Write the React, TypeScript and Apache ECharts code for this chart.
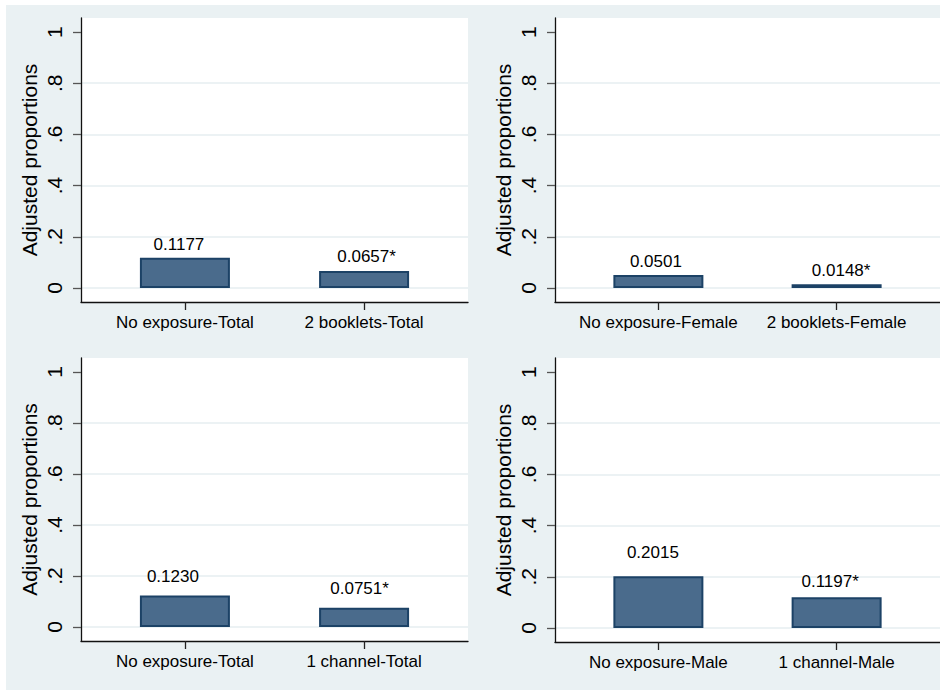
import React, { useEffect, useRef } from "react";
import * as echarts from "echarts";

// ---- data ----
const yTickValues = [0, 0.2, 0.4, 0.6, 0.8, 1];
const yTickLabels = ["0", ".2", ".4", ".6", ".8", "1"];
const yTitle = "Adjusted proportions";

const catsTL = ["No exposure-Total", "2 booklets-Total"];
const valsTL = [0.1177, 0.0657];
const starsTL = ["", "*"];

const catsTR = ["No exposure-Female", "2 booklets-Female"];
const valsTR = [0.0501, 0.0148];
const starsTR = ["", "*"];

const catsBL = ["No exposure-Total", "1 channel-Total"];
const valsBL = [0.123, 0.0751];
const starsBL = ["", "*"];

const catsBR = ["No exposure-Male", "1 channel-Male"];
const valsBR = [0.2015, 0.1197];
const starsBR = ["", "*"];

// ---- layout ----
const FONT = "'Liberation Sans', Arial, sans-serif";
const PANELS = [
  { cats: catsTL, vals: valsTL, stars: starsTL, left: 81, top: 18, height: 284, dx: [-6, 2.5], dist: [5, 6] },
  { cats: catsTR, vals: valsTR, stars: starsTR, left: 555, top: 18, height: 284, dx: [-2.5, 4.5], dist: [5.5, 5.3] },
  { cats: catsBL, vals: valsBL, stars: starsBL, left: 81, top: 358, height: 283, dx: [-12, -4.5], dist: [10.7, 10.7] },
  { cats: catsBR, vals: valsBR, stars: starsBR, left: 555, top: 358, height: 284, dx: [-5.5, -6.5], dist: [15, 7] },
];

export default function App() {
  const ref = useRef<HTMLDivElement>(null);
  useEffect(() => {
    if (!ref.current) return;
    const chart = echarts.init(ref.current, null, { renderer: "svg" });
    const grid: any[] = [];
    const xAxis: any[] = [];
    const yAxis: any[] = [];
    const series: any[] = [];
    PANELS.forEach((p, i) => {
      grid.push({
        left: p.left,
        top: p.top,
        width: 387,
        height: p.height,
        show: true,
        backgroundColor: "#ffffff",
        borderWidth: 0,
      });
      const positions = p.cats.map((_, k) => k + 1);
      xAxis.push({
        type: "value",
        gridIndex: i,
        min: 0.42,
        max: 2.58,
        axisLine: { show: true, onZero: false, lineStyle: { color: "#111", width: 1.3 } },
        axisTick: { show: true, customValues: positions, length: 8, lineStyle: { color: "#222", width: 1.3 } },
        axisLabel: {
          customValues: positions,
          formatter: (v: number) => p.cats[Math.round(v) - 1] ?? "",
          color: "#000",
          fontFamily: FONT,
          fontSize: 17,
          margin: 12,
        },
        splitLine: { show: false },
      });
      yAxis.push({
        type: "value",
        gridIndex: i,
        min: -0.055,
        max: 1.055,
        name: yTitle,
        nameLocation: "middle",
        nameRotate: 90,
        nameGap: 41,
        nameTextStyle: { color: "#000", fontFamily: FONT, fontSize: 21 },
        axisLine: { show: true, onZero: false, lineStyle: { color: "#111", width: 1.3 } },
        axisTick: { show: true, customValues: yTickValues, length: 8, lineStyle: { color: "#555", width: 1.3 } },
        axisLabel: {
          customValues: yTickValues,
          rotate: 90,
          formatter: (v: number) => {
            const idx = yTickValues.findIndex((t) => Math.abs(t - v) < 1e-6);
            return idx >= 0 ? yTickLabels[idx] : "";
          },
          color: "#000",
          fontFamily: FONT,
          fontSize: 21,
          margin: 16,
        },
        splitLine: { show: true, showMaxLine: false, lineStyle: { color: "#E6EEF1", width: 1.5 } },
      });
      series.push({
        type: "bar",
        xAxisIndex: i,
        yAxisIndex: i,
        barWidth: 90,
        itemStyle: { color: "#4A6B8C", borderColor: "#1C4266", borderWidth: 2 },
        label: {
          show: true,
          position: "top",
          color: "#000",
          fontFamily: FONT,
          fontSize: 17,
          formatter: (prm: any) => p.vals[prm.dataIndex].toFixed(4) + p.stars[prm.dataIndex],
        },
        data: p.vals.map((v, k) => ({
          value: [positions[k], v],
          label: { offset: [p.dx[k], 0], distance: p.dist[k] },
        })),
      });
    });
    chart.setOption({
      animation: false,
      backgroundColor: "#ffffff",
      graphic: [
        {
          type: "rect",
          z: -10,
          silent: true,
          shape: { x: 6, y: 5, width: 934, height: 685 },
          style: { fill: "#EAF1F3" },
        },
      ],
      grid,
      xAxis,
      yAxis,
      series,
    });
    return () => chart.dispose();
  }, []);
  return (
    <div
      ref={ref}
      style={{ position: "fixed", left: 0, top: 0, width: 940, height: 690 }}
    />
  );
}
